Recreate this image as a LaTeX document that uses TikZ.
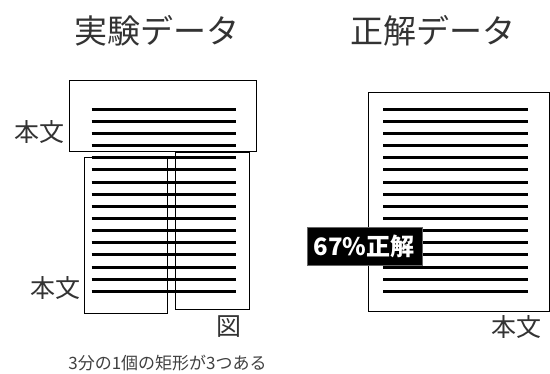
\documentclass[tikz,border=0pt]{standalone}
\usepackage{fontspec}
\setmainfont{Noto Sans CJK JP}
\begin{document}
\begin{tikzpicture}[x=1pt,y=-1pt,
  box/.style={draw, line width=1pt, inner sep=0pt, anchor=north west},
  bar/.style={line width=3pt},
  lbl/.style={font=\fontsize{25}{25}\selectfont, text=black!80, inner sep=0pt},
  ttl/.style={font=\fontsize{33}{33}\selectfont, text=black!80, inner sep=0pt},
  captext/.style={font=\fontsize{17}{17}\selectfont, text=black!75, inner sep=0pt},
  tag/.style={fill=black, draw=black!60, text=white, inner sep=0pt, font=\fontsize{24}{24}\selectfont\bfseries, minimum width=115pt, minimum height=38pt}]
\useasboundingbox (0,0) rectangle (550,373);
% titles
\node[ttl] (t1) at (157,31) {実験データ};
\node[ttl] (t2) at (433,31) {正解データ};
% left: experiment data
\node[box, minimum width=186.7pt, minimum height=71pt] (top) at (69,80) {};
\node[box, minimum width=83.3pt, minimum height=156pt] (lowl) at (84,157.3) {};
\node[box, minimum width=74.6pt, minimum height=156.4pt] (lowr) at (174.7,152.3) {};
\foreach \i in {0,...,15}
  \draw[bar] (91.7,109.3+12.133*\i) -- (236.3,109.3+12.133*\i);
\node[lbl] (b1) at (40,131.7) {本文};
\node[lbl] (b2) at (55.5,288.3) {本文};
\node[lbl] (fig) at (229,326.7) {図};
\node[captext] (c) at (167.5,363.3) {3分の1個の矩形が3つある};
% right: ground truth
\node[box, minimum width=180.7pt, minimum height=218.7pt] (gt) at (368.3,92) {};
\foreach \i in {0,...,15}
  \draw[bar] (383.3,109.3+12.133*\i) -- (528.3,109.3+12.133*\i);
\node[tag] (pct) at (364.2,245.9) {67\%正解};
\node[lbl] (b3) at (516.7,326.7) {本文};
\end{tikzpicture}
\end{document}
